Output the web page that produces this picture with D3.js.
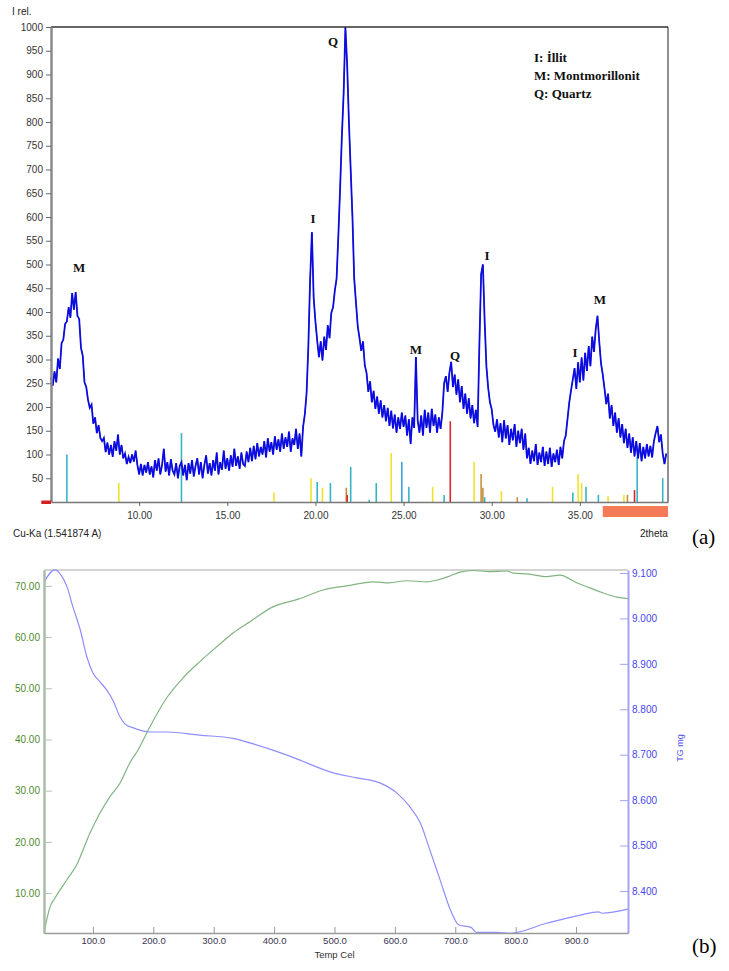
<!DOCTYPE html>
<html>
<head>
<meta charset="utf-8">
<script src="https://cdn.jsdelivr.net/npm/d3@7"></script>
<style>
body { margin: 0; background: #fff; }
svg text { font-family: "Liberation Sans", Arial, sans-serif; }
svg .serif { font-family: "Liberation Serif", "Times New Roman", serif; }
</style>
</head>
<body>
<div id="chart"></div>
<script>
// (a) XRD pattern, 2theta from 5.0 in 0.1 steps
var xrdStart = 5.0, xrdStep = 0.1;
var xrdIntensity = [
    262, 245, 275, 252, 302, 280, 334, 342, 375, 380,
    410, 388, 440, 405, 442, 392, 385, 325, 308, 252,
    242, 215, 198, 205, 165, 178, 145, 162, 135, 128,
    135, 105, 125, 100, 120, 95, 128, 108, 142, 100,
    120, 92, 102, 80, 95, 82, 100, 85, 108, 78,
    58, 80, 56, 78, 62, 84, 58, 75, 52, 88,
    66, 92, 58, 78, 112, 64, 84, 56, 90, 66,
    58, 82, 50, 76, 84, 56, 78, 46, 82, 60,
    88, 54, 76, 92, 58, 84, 50, 78, 98, 60,
    82, 56, 88, 66, 104, 58, 84, 68, 108, 70,
    92, 66, 98, 74, 112, 76, 96, 70, 104, 80,
    76, 106, 84, 114, 86, 118, 90, 124, 96, 116,
    100, 128, 94, 134, 106, 126, 100, 138, 110, 132,
    106, 144, 112, 136, 116, 148, 106, 134, 120, 154,
    112, 144, 96, 158, 185, 230, 330, 470, 568, 430,
    380, 340, 305, 338, 298, 348, 320, 372, 345, 398,
    410, 445, 470, 560, 660, 770, 860, 1000, 920, 800,
    700, 600, 470, 420, 370, 345, 318, 338, 288, 272,
    232, 254, 210, 234, 196, 222, 186, 214, 178, 204,
    170, 198, 160, 192, 155, 184, 146, 178, 154, 188,
    158, 182, 140, 174, 122, 178, 156, 305, 172, 146,
    182, 140, 194, 156, 188, 146, 196, 160, 184, 146,
    178, 154, 188, 250, 265, 232, 272, 295, 242, 268,
    226, 258, 210, 244, 196, 228, 186, 218, 176, 204,
    166, 194, 158, 330, 480, 500, 380, 285, 240, 210,
    195, 162, 148, 174, 136, 166, 126, 172, 134, 162,
    120, 154, 130, 164, 116, 150, 124, 154, 110, 144,
    92, 114, 80, 108, 86, 122, 78, 104, 84, 116,
    76, 106, 80, 114, 74, 102, 84, 110, 78, 116,
    92, 128, 140, 175, 210, 235, 258, 282, 238, 294,
    252, 304, 256, 314, 276, 328, 286, 348, 316, 364,
    392, 338, 292, 268, 238, 206, 228, 176, 204, 160,
    188, 146, 176, 136, 164, 124, 154, 114, 144, 104,
    136, 96, 128, 92, 124, 86, 116, 92, 122, 96,
    118, 94, 128, 145, 160, 126, 142, 102, 80, 102
];

// reference stick patterns under the scan
var stickPos    = [5.9, 8.85, 12.4, 17.65, 19.75, 20.1, 20.4, 20.85, 21.75, 21.8, 22.0, 23.05, 23.45, 24.3, 24.9, 25.3, 26.65, 27.3, 27.65, 29.0, 29.4, 29.5, 29.6, 30.55, 31.45, 32.0, 33.45, 34.6, 34.9, 35.1, 35.35, 36.05, 36.6, 37.5, 37.7, 38.1, 38.25, 39.7];
var stickHeight = [100, 40, 145, 20, 50, 42, 30, 40, 30, 15, 74, 5, 40, 103, 84, 32, 32, 15, 170, 84, 59, 30, 10, 23, 10, 8, 32, 20, 59, 40, 32, 15, 12, 15, 15, 25, 95, 50];
var stickPhase  = ["c", "y", "c", "y", "y", "c", "y", "c", "o", "r", "c", "c", "c", "y", "b", "c", "y", "c", "r", "y", "o", "o", "c", "y", "o", "c", "y", "c", "y", "y", "c", "c", "y", "y", "o", "r", "c", "c"];
var phaseColor  = { c: "#35b4c6", y: "#f2e12a", r: "#e02424", o: "#c8903c", b: "#3a9fe0" };

var xrdTicksY = d3.range(50, 1001, 50);
var xrdTicksX = [10, 15, 20, 25, 30, 35];

var peakLabels = ["M", "I", "Q", "M", "Q", "I", "I", "M"];
var peakTheta  = [6.6, 19.86, 21.0, 25.7, 27.92, 29.73, 34.72, 36.14];
var peakInt    = [493, 596, 970, 322, 309, 520, 314, 427];

var legendLines = ["I: İllit", "M: Montmorillonit", "Q: Quartz"];

// (b) thermal analysis
var dtaTemp  = [19, 29, 37, 57, 73, 95, 112, 128, 145, 161, 175, 194, 222, 249, 277, 305, 332, 360, 398, 440, 481, 520, 564, 590, 620, 653, 672, 688, 708, 730, 755, 785, 796, 823, 851, 873, 901, 923, 945, 968, 986];
var dtaValue = [2.2, 7.3, 9.0, 12.6, 15.5, 21.7, 25.7, 28.8, 31.5, 35.4, 38.0, 42.4, 48.1, 52.0, 55.2, 58.1, 60.8, 63.0, 65.9, 67.4, 69.2, 70.0, 70.8, 70.6, 71.0, 70.8, 71.2, 71.8, 72.7, 73.0, 72.8, 72.9, 72.5, 72.3, 71.8, 72.1, 70.6, 69.6, 68.6, 67.8, 67.5];

var tgTemp  = [19, 37, 47, 57, 67, 79, 90, 100, 112, 123, 133, 145, 153, 167, 194, 222, 277, 332, 360, 398, 443, 454, 498, 537, 575, 603, 625, 642, 658, 675, 692, 706, 726, 735, 768, 791, 851, 907, 937, 943, 986];
var tgValue = [9.080, 9.107, 9.096, 9.070, 9.025, 8.975, 8.915, 8.880, 8.860, 8.842, 8.820, 8.783, 8.768, 8.759, 8.750, 8.750, 8.743, 8.736, 8.726, 8.710, 8.688, 8.682, 8.660, 8.649, 8.638, 8.616, 8.585, 8.550, 8.490, 8.424, 8.358, 8.325, 8.320, 8.309, 8.309, 8.307, 8.329, 8.347, 8.354, 8.351, 8.360];

var tempTicks = d3.range(100, 901, 100);
var dtaTicks  = d3.range(10, 71, 10);
var tgTicks   = [8.4, 8.5, 8.6, 8.7, 8.8, 8.9, 9.0, 9.1];

var W = 729, H = 971;
var svg = d3.select("#chart").append("svg")
    .attr("width", W)
    .attr("height", H)
    .style("background", "#fff");

// ---------------- panel (a) ----------------
var xA = d3.scaleLinear().domain([5, 40]).range([51, 668]);
var yA = d3.scaleLinear().domain([0, 1000]).range([502, 27]);

var xrdData = xrdIntensity.map(function(v, i) {
    return { t: xrdStart + i * xrdStep, v: v };
});

// stick patterns
svg.append("g").selectAll("line")
    .data(stickPos)
    .enter().append("line")
    .attr("x1", function(d) { return xA(d); })
    .attr("x2", function(d) { return xA(d); })
    .attr("y1", yA(0))
    .attr("y2", function(d, i) { return yA(stickHeight[i]); })
    .attr("stroke", function(d, i) { return phaseColor[stickPhase[i]]; })
    .attr("stroke-width", 1.6);

// scan line
var lineA = d3.line()
    .x(function(d) { return xA(d.t); })
    .y(function(d) { return yA(d.v); });

svg.append("path")
    .datum(xrdData)
    .attr("d", lineA)
    .attr("fill", "none")
    .attr("stroke", "#2424b8")
    .attr("stroke-width", 1.8);
svg.append("path")
    .datum(xrdData)
    .attr("d", lineA)
    .attr("fill", "none")
    .attr("stroke", "#0000ff")
    .attr("stroke-width", 0.9);

// frame: top and right borders
svg.append("line")
    .attr("x1", xA(5)).attr("x2", xA(40))
    .attr("y1", yA(1000)).attr("y2", yA(1000))
    .attr("stroke", "#333").attr("stroke-width", 1.5);
svg.append("line")
    .attr("x1", xA(40)).attr("x2", xA(40))
    .attr("y1", yA(1000)).attr("y2", yA(0))
    .attr("stroke", "#222").attr("stroke-width", 1);

var axA_y = svg.append("g")
    .attr("transform", "translate(" + xA(5) + ",0)")
    .call(d3.axisLeft(yA).tickValues(xrdTicksY).tickFormat(d3.format("d")).tickSize(5).tickSizeOuter(0).tickPadding(3));
axA_y.select(".domain").attr("stroke", "#8a8a8a").attr("stroke-width", 2.5);
axA_y.selectAll(".tick line").attr("stroke", "#666");
axA_y.selectAll(".tick text").attr("fill", "#333").style("font-size", "10px");

var axA_x = svg.append("g")
    .attr("transform", "translate(0," + yA(0) + ")")
    .call(d3.axisBottom(xA).tickValues(xrdTicksX).tickFormat(d3.format(".2f")).tickSize(4).tickSizeOuter(0).tickPadding(6));
axA_x.select(".domain").attr("stroke", "#777").attr("stroke-width", 1.5);
axA_x.selectAll(".tick line").attr("stroke", "#666");
axA_x.selectAll(".tick text").attr("fill", "#333").style("font-size", "10px");

// range markers along the baseline
svg.append("rect")
    .attr("x", xA(4.45)).attr("y", yA(0) - 1.5)
    .attr("width", xA(5) - xA(4.45)).attr("height", 3.5)
    .attr("fill", "#d42020");
svg.append("rect")
    .attr("x", xA(36.3)).attr("y", yA(0) + 4)
    .attr("width", xA(40) - xA(36.3)).attr("height", 11)
    .attr("fill", "#f47a58");

svg.append("text").attr("x", 12).attr("y", 15).text("I rel.")
    .style("font-size", "10px").attr("fill", "#222");
svg.append("text").attr("x", 13).attr("y", 537).text("Cu-Ka (1.541874 A)")
    .style("font-size", "10px").attr("fill", "#222");
svg.append("text").attr("x", 640).attr("y", 537).text("2theta")
    .style("font-size", "10px").attr("fill", "#222");
svg.append("text").attr("class", "serif").attr("x", 692).attr("y", 544).text("(a)")
    .style("font-size", "21px").attr("fill", "#000");

// peak labels
svg.append("g").selectAll("text")
    .data(peakLabels)
    .enter().append("text")
    .attr("class", "serif")
    .attr("x", function(d, i) { return xA(peakTheta[i]); })
    .attr("y", function(d, i) { return yA(peakInt[i]); })
    .attr("dy", "0.35em")
    .attr("text-anchor", "middle")
    .style("font-size", "13px")
    .style("font-weight", "bold")
    .attr("fill", "#111")
    .text(function(d) { return d; });

svg.append("g").selectAll("text")
    .data(legendLines)
    .enter().append("text")
    .attr("class", "serif")
    .attr("x", 534)
    .attr("y", function(d, i) { return 62 + i * 18; })
    .style("font-size", "13px")
    .style("font-weight", "bold")
    .attr("fill", "#111")
    .text(function(d) { return d; });

// ---------------- panel (b) ----------------
var xB = d3.scaleLinear().domain([19, 986]).range([44, 628]);
var yL = d3.scaleLinear().domain([2.2, 73.1]).range([933, 570]);
var yR = d3.scaleLinear().domain([8.3075, 9.1066]).range([933, 570]);

// top border
svg.append("line")
    .attr("x1", xB(19)).attr("x2", xB(986))
    .attr("y1", yL(73.1)).attr("y2", yL(73.1))
    .attr("stroke", "#d4d4d4").attr("stroke-width", 2);

var dtaData = dtaTemp.map(function(t, i) { return { t: t, v: dtaValue[i] }; });
var tgData  = tgTemp.map(function(t, i) { return { t: t, v: tgValue[i] }; });

svg.append("path")
    .datum(dtaData)
    .attr("d", d3.line().curve(d3.curveMonotoneX)
        .x(function(d) { return xB(d.t); })
        .y(function(d) { return yL(d.v); }))
    .attr("fill", "none")
    .attr("stroke", "#82b482")
    .attr("stroke-width", 1.2);

svg.append("path")
    .datum(tgData)
    .attr("d", d3.line().curve(d3.curveMonotoneX)
        .x(function(d) { return xB(d.t); })
        .y(function(d) { return yR(d.v); }))
    .attr("fill", "none")
    .attr("stroke", "#8e8eff")
    .attr("stroke-width", 1.2);

var axB_l = svg.append("g")
    .attr("transform", "translate(" + xB(19) + ",0)")
    .call(d3.axisRight(yL).tickValues(dtaTicks).tickFormat(d3.format(".2f")).tickSize(8).tickSizeOuter(0));
axB_l.select(".domain").attr("stroke", "#a8bca8").attr("stroke-width", 2.5);
axB_l.selectAll(".tick line").attr("stroke", "#b4c8b4");
axB_l.selectAll(".tick text")
    .attr("x", -4)
    .attr("text-anchor", "end")
    .attr("fill", "#4f8a2c")
    .style("font-size", "10px");

var axB_r = svg.append("g")
    .attr("transform", "translate(" + xB(986) + ",0)")
    .call(d3.axisLeft(yR).tickValues(tgTicks).tickFormat(d3.format(".3f")).tickSize(8).tickSizeOuter(0));
axB_r.select(".domain").attr("stroke", "#a4a4f4").attr("stroke-width", 2);
axB_r.selectAll(".tick line").attr("stroke", "#a4a4f4");
axB_r.selectAll(".tick text")
    .attr("x", 4)
    .attr("text-anchor", "start")
    .attr("fill", "#4646f0")
    .style("font-size", "10px");

var axB_x = svg.append("g")
    .attr("transform", "translate(0," + yL(2.2) + ")")
    .call(d3.axisTop(xB).tickValues(tempTicks).tickFormat(d3.format(".1f")).tickSize(6).tickSizeOuter(0));
axB_x.select(".domain").attr("stroke", "#9a9a9a").attr("stroke-width", 1.5);
axB_x.selectAll(".tick line").attr("stroke", "#999");
axB_x.selectAll(".tick text")
    .attr("y", 4)
    .attr("dy", "0.71em")
    .attr("fill", "#3a3450")
    .style("font-size", "9.5px");

svg.append("text").attr("x", xB(500)).attr("y", 958).attr("text-anchor", "middle")
    .text("Temp Cel").style("font-size", "9.5px").attr("fill", "#333");
svg.append("text")
    .attr("transform", "translate(683,748) rotate(-90)")
    .attr("text-anchor", "middle")
    .text("TG mg").style("font-size", "9px").attr("fill", "#5050f0");
svg.append("text").attr("class", "serif").attr("x", 692).attr("y", 953).text("(b)")
    .style("font-size", "21px").attr("fill", "#000");
</script>
</body>
</html>
